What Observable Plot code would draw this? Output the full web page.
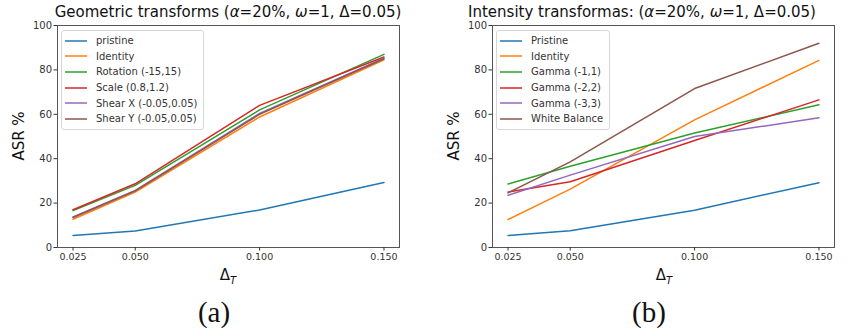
<!DOCTYPE html>
<html>
<head>
<meta charset="utf-8">
<script src="https://cdn.jsdelivr.net/npm/d3@7"></script>
<script src="https://cdn.jsdelivr.net/npm/@observablehq/plot@0.6"></script>
<style>
  body { margin: 0; background: #fff; }
  #wrap { position: relative; width: 853px; height: 336px; font-family: "DejaVu Sans", sans-serif; color: #222; overflow: hidden; }
  .abs { position: absolute; white-space: nowrap; }
  .title { font-size: 15px; transform: translateX(-50%); top: 3px; color: #111; }
  .xlab { font-size: 15px; transform: translateX(-50%); top: 266px; color: #111; }
  .ylab { font-size: 15px; transform: translate(-50%, -50%) rotate(-90deg); top: 136px; color: #111; }
  .cap { font-family: "Liberation Serif", "DejaVu Serif", serif; font-size: 29px; transform: translateX(-50%); top: 296px; color: #111; }
  .legend { border: 1px solid #d6d6d6; border-radius: 3px; background: rgba(255,255,255,0.85); padding: 2px 6px 2px 3px; font-size: 10px; color: #333; }
  .legend .row { display: flex; align-items: center; height: 15.6px; }
  .legend .sw { width: 22px; height: 0; border-top: 2px solid; margin-right: 9px; opacity: 0.75; }
</style>
</head>
<body>
<div id="wrap"></div>
<script>
const xValues = [0.025, 0.05, 0.1, 0.15];
const xTicks = [0.025, 0.05, 0.1, 0.15];
const yTicks = [0, 20, 40, 60, 80, 100];
const colors = ["#1f77b4", "#ff7f0e", "#2ca02c", "#d62728", "#9467bd", "#8c564b"];

// Geometric transforms
const geoNames = ["pristine", "Identity", "Rotation (-15,15)", "Scale (0.8,1.2)", "Shear X (-0.05,0.05)", "Shear Y (-0.05,0.05)"];
const geoPristine = [5.4, 7.4, 16.9, 29.3];
const geoIdentity = [12.7, 25.0, 58.8, 84.5];
const geoRotation = [16.6, 28.0, 62.0, 87.0];
const geoScale = [17.0, 28.7, 64.0, 85.8];
const geoShearX = [13.8, 25.7, 60.4, 85.3];
const geoShearY = [13.5, 25.5, 60.0, 85.0];

// Intensity transforms
const intNames = ["Pristine", "Identity", "Gamma (-1,1)", "Gamma (-2,2)", "Gamma (-3,3)", "White Balance"];
const intPristine = [5.4, 7.5, 16.8, 29.2];
const intIdentity = [12.6, 26.3, 57.5, 84.3];
const intGamma1 = [28.6, 36.6, 51.6, 64.3];
const intGamma2 = [25.0, 29.6, 48.2, 66.5];
const intGamma3 = [23.5, 32.6, 50.0, 58.4];
const intWB = [24.6, 38.6, 71.6, 92.0];

const geoSeries = [geoPristine, geoIdentity, geoRotation, geoScale, geoShearX, geoShearY];
const intSeries = [intPristine, intIdentity, intGamma1, intGamma2, intGamma3, intWB];

function rows(names, series) {
  const out = [];
  names.forEach((n, i) => series[i].forEach((v, j) => out.push({series: n, x: xValues[j], y: v})));
  return out;
}

function makePlot(names, series, opts) {
  return Plot.plot({
    width: opts.width,
    height: 290,
    marginLeft: opts.ml,
    marginRight: opts.mr,
    marginTop: 25,
    marginBottom: 43,
    style: {fontFamily: "DejaVu Sans, sans-serif", fontSize: "10px", color: "#333", background: "transparent"},
    x: {type: "linear", domain: [0.01875, 0.15625], label: null},
    y: {domain: [0, 100], label: null},
    color: {domain: names, range: colors},
    marks: [
      Plot.frame({stroke: "#555", strokeWidth: 1}),
      Plot.axisX({ticks: xTicks, tickFormat: d3.format(".3f"), tickSize: 3.5, tickPadding: 2, fontSize: 9.5, label: null, stroke: "#333"}),
      Plot.axisY({ticks: yTicks, tickSize: 3.5, tickPadding: 2, fontSize: 10, label: null, stroke: "#333"}),
      Plot.line(rows(names, series), {x: "x", y: "y", z: "series", stroke: "series", strokeWidth: 1.5})
    ]
  });
}

const wrap = document.getElementById("wrap");
function place(el, left, top) {
  el.style.position = "absolute";
  el.style.left = left + "px";
  el.style.top = top + "px";
  wrap.appendChild(el);
}
function addDiv(cls, html, left, top) {
  const d = document.createElement("div");
  d.className = "abs " + cls;
  d.innerHTML = html;
  d.style.left = left + "px";
  if (top !== undefined) d.style.top = top + "px";
  wrap.appendChild(d);
  return d;
}
function legend(names, left, top) {
  const d = document.createElement("div");
  d.className = "abs legend";
  d.style.left = left + "px";
  d.style.top = top + "px";
  names.forEach((n, i) => {
    const r = document.createElement("div");
    r.className = "row";
    r.innerHTML = `<span class="sw" style="border-color:${colors[i]}"></span><span>${n}</span>`;
    d.appendChild(r);
  });
  wrap.appendChild(d);
}

place(makePlot(geoNames, geoSeries, {width: 426, ml: 57, mr: 27}), 0, 0);
place(makePlot(intNames, intSeries, {width: 427, ml: 66, mr: 19}), 426, 0);

addDiv("title", "Geometric transforms (<i>α</i>=20%, <i>ω</i>=1, Δ=0.05)", 228);
addDiv("title", "Intensity transformas: (<i>α</i>=20%, <i>ω</i>=1, Δ=0.05)", 642);
addDiv("xlab", "Δ<sub style='font-size:10px;font-style:italic'>T</sub>", 228);
addDiv("xlab", "Δ<sub style='font-size:10px;font-style:italic'>T</sub>", 664);
addDiv("ylab", "ASR %", 19);
addDiv("ylab", "ASR %", 454);
addDiv("cap", "(a)", 214);
addDiv("cap", "(b)", 649);
legend(geoNames, 61, 30);
legend(intNames, 496, 30);
</script>
</body>
</html>
